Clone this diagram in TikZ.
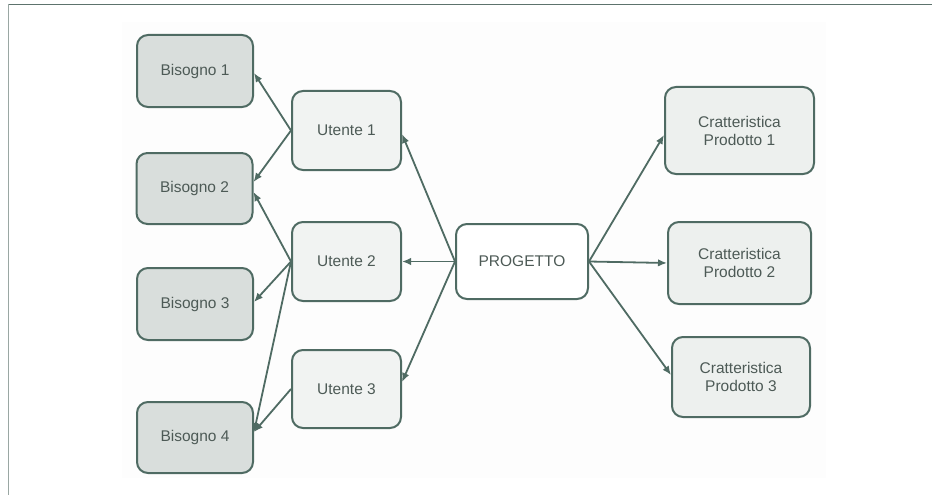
\documentclass[tikz,border=0pt]{standalone}
\usepackage{fontspec}
\setmainfont{Liberation Sans}
\usetikzlibrary{arrows.meta}
\definecolor{edge}{HTML}{4F6B63}
\definecolor{txt}{HTML}{4D5A56}
\definecolor{bfill}{HTML}{D9DEDC}
\definecolor{ufill}{HTML}{F1F3F2}
\definecolor{cfill}{HTML}{EDF0EE}
\definecolor{topline}{HTML}{5D736D}
\definecolor{leftline}{HTML}{9AA7A3}
\definecolor{bgpanel}{HTML}{FDFDFD}
\tikzset{
  box/.style={draw=edge, line width=2pt, rounded corners=11pt, inner sep=0pt,
    text=txt, font=\fontsize{15.5}{18}\selectfont, align=center},
  bis/.style={box, fill=bfill},
  ute/.style={box, fill=ufill},
  prog/.style={box, fill=white},
  car/.style={box, fill=cfill},
  arr/.style={draw=edge, line width=1.8pt, -{Latex[length=9pt,width=7.5pt]}},
}
\begin{document}
\begin{tikzpicture}[x=1pt,y=-1pt]
\useasboundingbox (0,0) rectangle (932,495);
\fill[white] (0,0) rectangle (932,495);
\fill[bgpanel] (122,22) rectangle (826,478);
\draw[topline, line width=1.5pt] (8,4.5) -- (932,4.5);
\draw[leftline, line width=1.5pt] (8.5,4) -- (8.5,495);

\node[bis, minimum width=116pt, minimum height=72pt] (b1) at (195,71) {Bisogno 1};
\node[bis, minimum width=116pt, minimum height=71pt] (b2) at (194.5,188.5) {Bisogno 2};
\node[bis, minimum width=116pt, minimum height=72pt] (b3) at (195,304) {Bisogno 3};
\node[bis, minimum width=116pt, minimum height=71pt] (b4) at (195,437.5) {Bisogno 4};

\node[ute, minimum width=109pt, minimum height=79pt] (u1) at (346.5,130.5) {Utente 1};
\node[ute, minimum width=109pt, minimum height=79pt] (u2) at (346.5,261.5) {Utente 2};
\node[ute, minimum width=109pt, minimum height=78pt] (u3) at (346.5,389) {Utente 3};

\node[prog, minimum width=132pt, minimum height=75pt] (p) at (522,261.5) {PROGETTO};

\node[car, minimum width=149pt, minimum height=87pt] (c1) at (739.5,130.5) {Cratteristica\\Prodotto 1};
\node[car, minimum width=143pt, minimum height=82pt] (c2) at (739.5,263) {Cratteristica\\Prodotto 2};
\node[car, minimum width=138pt, minimum height=80pt] (c3) at (741,377) {Cratteristica\\Prodotto 3};

\draw[arr] (u1.west) -- ([yshift=-2pt]b1.east);
\draw[arr] (u1.west) -- ([yshift=6.5pt]b2.east);
\draw[arr] (u2.west) -- ([yshift=-3.5pt]b2.east);
\draw[arr] (u2.west) -- ([yshift=2pt]b3.east);
\draw[arr] (u2.west) -- ([yshift=5.5pt]b4.east);
\draw[arr] (u3.west) -- ([yshift=5.5pt]b4.east);

\draw[arr] (p.west) -- ([yshift=-3.5pt]u1.east);
\draw[arr] (p.west) -- (u2.east);
\draw[arr] (p.west) -- ([yshift=7pt]u3.east);

\draw[arr] (p.east) -- ([yshift=-4.5pt]c1.west);
\draw[arr] (p.east) -- (c2.west);
\draw[arr] (p.east) -- ([yshift=2pt]c3.west);
\end{tikzpicture}
\end{document}
